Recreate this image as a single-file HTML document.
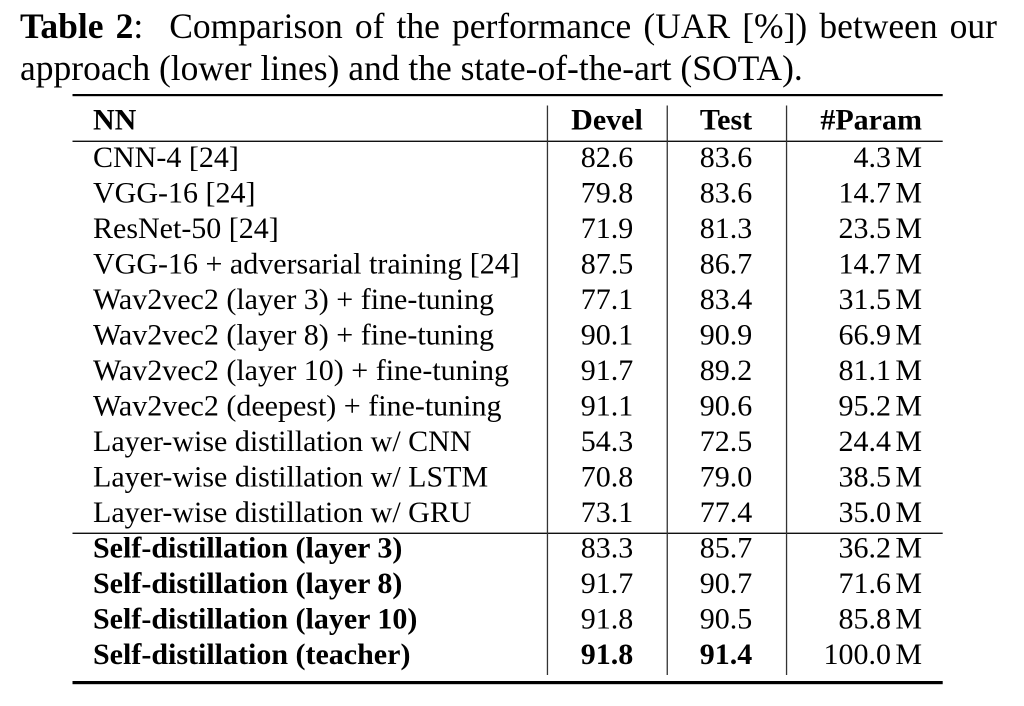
<!DOCTYPE html>
<html>
<head>
<meta charset="utf-8">
<style>
  html, body { margin: 0; padding: 0; background: #fff; }
  #wrap { position: relative; width: 1024px; height: 706px; overflow: hidden; background: #fff; }
  .cap { position: absolute; left: 20px; font-family: "Liberation Serif", serif; font-size: 35.5px; line-height: 42px; color: #000; white-space: nowrap; }
  #l1 { top: 5px; width: 977px; text-align: justify; text-align-last: justify; white-space: normal; }
  #l2 { top: 47px; }
  svg { position: absolute; left: 0; top: 0; }
  svg text { font-family: "Liberation Serif", serif; font-size: 30px; fill: #000; }
  .b { font-weight: bold; }
</style>
</head>
<body>
<div id="wrap">
  <div class="cap" id="l1"><b>Table 2</b>:<span style="display:inline-block;width:26px"></span>Comparison of the performance (UAR [%]) between our</div>
  <div class="cap" id="l2">approach (lower lines) and the state-of-the-art (SOTA).</div>

  <svg width="1024" height="706" viewBox="0 0 1024 706" xmlns="http://www.w3.org/2000/svg">
    <!-- rules -->
    <rect x="72.5" y="94" width="870.2" height="2.2" fill="#000"/>
    <rect x="72.5" y="140.6" width="870.2" height="1.4" fill="#111"/>
    <rect x="72.5" y="532.6" width="870.2" height="1.4" fill="#111"/>
    <rect x="72.5" y="681" width="870.2" height="3.2" fill="#000"/>
    <!-- vertical lines -->
    <rect x="546.8" y="105.5" width="1.3" height="569.5" fill="#333"/>
    <rect x="666.6" y="105.5" width="1.3" height="569.5" fill="#333"/>
    <rect x="785.9" y="105.5" width="1.3" height="569.5" fill="#333"/>

    <!-- header -->
    <text class="b" x="93" y="129.5">NN</text>
    <text class="b" x="607" y="129.5" text-anchor="middle">Devel</text>
    <text class="b" x="726" y="129.5" text-anchor="middle">Test</text>
    <text class="b" x="922" y="129.5" text-anchor="end">#Param</text>

    <!-- rows -->
    <g>
      <text x="93" y="167">CNN-4 [24]</text>
      <text x="607" y="167" text-anchor="middle">82.6</text>
      <text x="726" y="167" text-anchor="middle">83.6</text>
      <text x="891" y="167" text-anchor="end">4.3</text><text x="922" y="167" text-anchor="end">M</text>

      <text x="93" y="202.5">VGG-16 [24]</text>
      <text x="607" y="202.5" text-anchor="middle">79.8</text>
      <text x="726" y="202.5" text-anchor="middle">83.6</text>
      <text x="891" y="202.5" text-anchor="end">14.7</text><text x="922" y="202.5" text-anchor="end">M</text>

      <text x="93" y="238">ResNet-50 [24]</text>
      <text x="607" y="238" text-anchor="middle">71.9</text>
      <text x="726" y="238" text-anchor="middle">81.3</text>
      <text x="891" y="238" text-anchor="end">23.5</text><text x="922" y="238" text-anchor="end">M</text>

      <text x="93" y="273.5">VGG-16 + adversarial training [24]</text>
      <text x="607" y="273.5" text-anchor="middle">87.5</text>
      <text x="726" y="273.5" text-anchor="middle">86.7</text>
      <text x="891" y="273.5" text-anchor="end">14.7</text><text x="922" y="273.5" text-anchor="end">M</text>

      <text x="93" y="309">Wav2vec2 (layer 3) + fine-tuning</text>
      <text x="607" y="309" text-anchor="middle">77.1</text>
      <text x="726" y="309" text-anchor="middle">83.4</text>
      <text x="891" y="309" text-anchor="end">31.5</text><text x="922" y="309" text-anchor="end">M</text>

      <text x="93" y="344.5">Wav2vec2 (layer 8) + fine-tuning</text>
      <text x="607" y="344.5" text-anchor="middle">90.1</text>
      <text x="726" y="344.5" text-anchor="middle">90.9</text>
      <text x="891" y="344.5" text-anchor="end">66.9</text><text x="922" y="344.5" text-anchor="end">M</text>

      <text x="93" y="380">Wav2vec2 (layer 10) + fine-tuning</text>
      <text x="607" y="380" text-anchor="middle">91.7</text>
      <text x="726" y="380" text-anchor="middle">89.2</text>
      <text x="891" y="380" text-anchor="end">81.1</text><text x="922" y="380" text-anchor="end">M</text>

      <text x="93" y="415.5">Wav2vec2 (deepest) + fine-tuning</text>
      <text x="607" y="415.5" text-anchor="middle">91.1</text>
      <text x="726" y="415.5" text-anchor="middle">90.6</text>
      <text x="891" y="415.5" text-anchor="end">95.2</text><text x="922" y="415.5" text-anchor="end">M</text>

      <text x="93" y="451">Layer-wise distillation w/ CNN</text>
      <text x="607" y="451" text-anchor="middle">54.3</text>
      <text x="726" y="451" text-anchor="middle">72.5</text>
      <text x="891" y="451" text-anchor="end">24.4</text><text x="922" y="451" text-anchor="end">M</text>

      <text x="93" y="486.5">Layer-wise distillation w/ LSTM</text>
      <text x="607" y="486.5" text-anchor="middle">70.8</text>
      <text x="726" y="486.5" text-anchor="middle">79.0</text>
      <text x="891" y="486.5" text-anchor="end">38.5</text><text x="922" y="486.5" text-anchor="end">M</text>

      <text x="93" y="522">Layer-wise distillation w/ GRU</text>
      <text x="607" y="522" text-anchor="middle">73.1</text>
      <text x="726" y="522" text-anchor="middle">77.4</text>
      <text x="891" y="522" text-anchor="end">35.0</text><text x="922" y="522" text-anchor="end">M</text>

      <text class="b" x="93" y="557.5">Self-distillation (layer 3)</text>
      <text x="607" y="557.5" text-anchor="middle">83.3</text>
      <text x="726" y="557.5" text-anchor="middle">85.7</text>
      <text x="891" y="557.5" text-anchor="end">36.2</text><text x="922" y="557.5" text-anchor="end">M</text>

      <text class="b" x="93" y="593">Self-distillation (layer 8)</text>
      <text x="607" y="593" text-anchor="middle">91.7</text>
      <text x="726" y="593" text-anchor="middle">90.7</text>
      <text x="891" y="593" text-anchor="end">71.6</text><text x="922" y="593" text-anchor="end">M</text>

      <text class="b" x="93" y="628.5">Self-distillation (layer 10)</text>
      <text x="607" y="628.5" text-anchor="middle">91.8</text>
      <text x="726" y="628.5" text-anchor="middle">90.5</text>
      <text x="891" y="628.5" text-anchor="end">85.8</text><text x="922" y="628.5" text-anchor="end">M</text>

      <text class="b" x="93" y="664">Self-distillation (teacher)</text>
      <text class="b" x="607" y="664" text-anchor="middle">91.8</text>
      <text class="b" x="726" y="664" text-anchor="middle">91.4</text>
      <text x="891" y="664" text-anchor="end">100.0</text><text x="922" y="664" text-anchor="end">M</text>
    </g>
  </svg>
</div>
</body>
</html>
